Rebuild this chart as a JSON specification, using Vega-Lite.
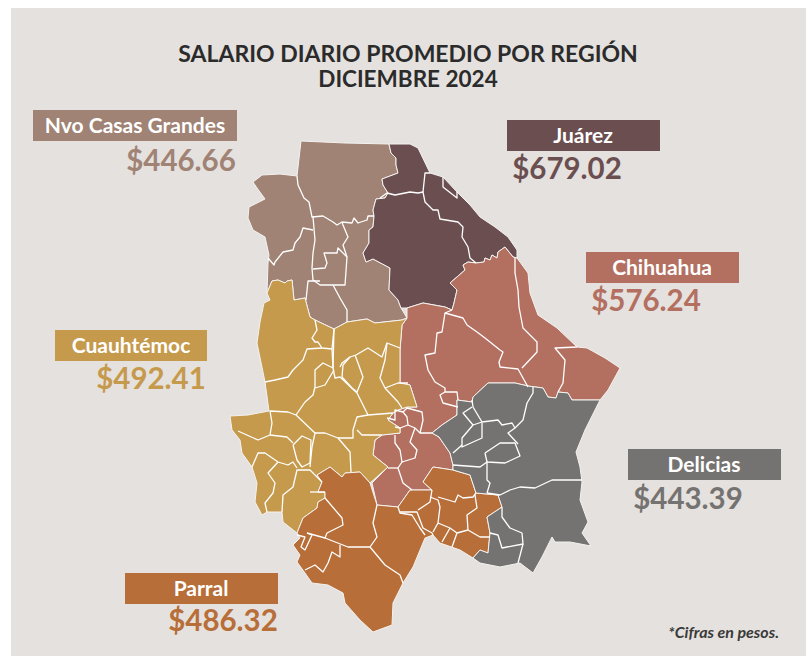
{"$schema":"https://vega.github.io/schema/vega-lite/v6.json","width":809,"height":656,"padding":0,"autosize":{"type":"none"},"background":"#ffffff","view":{"stroke":null},
"datasets":{
"panel":[{"x":11,"x2":806,"y":8,"y2":656}],
"regiones":[
{"r":"Nvo Casas Grandes","x":301,"y":141},{"r":"Nvo Casas Grandes","x":345,"y":143},{"r":"Nvo Casas Grandes","x":389,"y":144},{"r":"Nvo Casas Grandes","x":391,"y":153},{"r":"Nvo Casas Grandes","x":396,"y":158},{"r":"Nvo Casas Grandes","x":396,"y":165},{"r":"Nvo Casas Grandes","x":398,"y":173},{"r":"Nvo Casas Grandes","x":382,"y":179},{"r":"Nvo Casas Grandes","x":383,"y":185},{"r":"Nvo Casas Grandes","x":388,"y":193},{"r":"Nvo Casas Grandes","x":385,"y":198},{"r":"Nvo Casas Grandes","x":376,"y":199},{"r":"Nvo Casas Grandes","x":373,"y":210},{"r":"Nvo Casas Grandes","x":374,"y":216},{"r":"Nvo Casas Grandes","x":373,"y":227},{"r":"Nvo Casas Grandes","x":369,"y":230},{"r":"Nvo Casas Grandes","x":369,"y":243},{"r":"Nvo Casas Grandes","x":363,"y":253},{"r":"Nvo Casas Grandes","x":366,"y":262},{"r":"Nvo Casas Grandes","x":373,"y":259},{"r":"Nvo Casas Grandes","x":390,"y":268},{"r":"Nvo Casas Grandes","x":389,"y":290},{"r":"Nvo Casas Grandes","x":398,"y":300},{"r":"Nvo Casas Grandes","x":401,"y":308},{"r":"Nvo Casas Grandes","x":407,"y":318},{"r":"Nvo Casas Grandes","x":402,"y":320},{"r":"Nvo Casas Grandes","x":375,"y":323},{"r":"Nvo Casas Grandes","x":367,"y":319},{"r":"Nvo Casas Grandes","x":347,"y":322},{"r":"Nvo Casas Grandes","x":334,"y":329},{"r":"Nvo Casas Grandes","x":315,"y":320},{"r":"Nvo Casas Grandes","x":310,"y":317},{"r":"Nvo Casas Grandes","x":305,"y":298},{"r":"Nvo Casas Grandes","x":294,"y":300},{"r":"Nvo Casas Grandes","x":292,"y":280},{"r":"Nvo Casas Grandes","x":287,"y":281},{"r":"Nvo Casas Grandes","x":285,"y":283},{"r":"Nvo Casas Grandes","x":278,"y":280},{"r":"Nvo Casas Grandes","x":272,"y":281},{"r":"Nvo Casas Grandes","x":267,"y":293},{"r":"Nvo Casas Grandes","x":268,"y":263},{"r":"Nvo Casas Grandes","x":269,"y":255},{"r":"Nvo Casas Grandes","x":265,"y":237},{"r":"Nvo Casas Grandes","x":253,"y":230},{"r":"Nvo Casas Grandes","x":248,"y":218},{"r":"Nvo Casas Grandes","x":249,"y":207},{"r":"Nvo Casas Grandes","x":265,"y":199},{"r":"Nvo Casas Grandes","x":257,"y":188},{"r":"Nvo Casas Grandes","x":253,"y":182},{"r":"Nvo Casas Grandes","x":262,"y":175},{"r":"Nvo Casas Grandes","x":280,"y":174},{"r":"Nvo Casas Grandes","x":297,"y":176},{"r":"Nvo Casas Grandes","x":301,"y":141},
{"r":"Juárez","x":389,"y":144},{"r":"Juárez","x":410,"y":144},{"r":"Juárez","x":418,"y":148},{"r":"Juárez","x":430,"y":173},{"r":"Juárez","x":443,"y":177},{"r":"Juárez","x":457,"y":192},{"r":"Juárez","x":470,"y":205},{"r":"Juárez","x":480,"y":217},{"r":"Juárez","x":495,"y":227},{"r":"Juárez","x":508,"y":237},{"r":"Juárez","x":517,"y":250},{"r":"Juárez","x":517,"y":258},{"r":"Juárez","x":513,"y":257},{"r":"Juárez","x":505,"y":247},{"r":"Juárez","x":498,"y":252},{"r":"Juárez","x":497,"y":258},{"r":"Juárez","x":492,"y":255},{"r":"Juárez","x":490,"y":260},{"r":"Juárez","x":485,"y":258},{"r":"Juárez","x":484,"y":262},{"r":"Juárez","x":476,"y":263},{"r":"Juárez","x":468,"y":262},{"r":"Juárez","x":463,"y":265},{"r":"Juárez","x":465,"y":270},{"r":"Juárez","x":450,"y":283},{"r":"Juárez","x":457,"y":290},{"r":"Juárez","x":454,"y":303},{"r":"Juárez","x":452,"y":310},{"r":"Juárez","x":445,"y":307},{"r":"Juárez","x":423,"y":303},{"r":"Juárez","x":407,"y":308},{"r":"Juárez","x":401,"y":308},{"r":"Juárez","x":398,"y":300},{"r":"Juárez","x":389,"y":290},{"r":"Juárez","x":390,"y":268},{"r":"Juárez","x":373,"y":259},{"r":"Juárez","x":366,"y":262},{"r":"Juárez","x":363,"y":253},{"r":"Juárez","x":369,"y":243},{"r":"Juárez","x":369,"y":230},{"r":"Juárez","x":373,"y":227},{"r":"Juárez","x":374,"y":216},{"r":"Juárez","x":373,"y":210},{"r":"Juárez","x":376,"y":199},{"r":"Juárez","x":385,"y":198},{"r":"Juárez","x":388,"y":193},{"r":"Juárez","x":383,"y":185},{"r":"Juárez","x":382,"y":179},{"r":"Juárez","x":398,"y":173},{"r":"Juárez","x":396,"y":165},{"r":"Juárez","x":396,"y":158},{"r":"Juárez","x":391,"y":153},{"r":"Juárez","x":389,"y":144},
{"r":"Chihuahua","x":407,"y":308},{"r":"Chihuahua","x":423,"y":303},{"r":"Chihuahua","x":445,"y":307},{"r":"Chihuahua","x":452,"y":310},{"r":"Chihuahua","x":454,"y":303},{"r":"Chihuahua","x":457,"y":290},{"r":"Chihuahua","x":450,"y":283},{"r":"Chihuahua","x":465,"y":270},{"r":"Chihuahua","x":463,"y":265},{"r":"Chihuahua","x":468,"y":262},{"r":"Chihuahua","x":476,"y":263},{"r":"Chihuahua","x":484,"y":262},{"r":"Chihuahua","x":485,"y":258},{"r":"Chihuahua","x":490,"y":260},{"r":"Chihuahua","x":492,"y":255},{"r":"Chihuahua","x":497,"y":258},{"r":"Chihuahua","x":498,"y":252},{"r":"Chihuahua","x":505,"y":247},{"r":"Chihuahua","x":513,"y":257},{"r":"Chihuahua","x":517,"y":258},{"r":"Chihuahua","x":528,"y":273},{"r":"Chihuahua","x":530,"y":293},{"r":"Chihuahua","x":538,"y":315},{"r":"Chihuahua","x":557,"y":328},{"r":"Chihuahua","x":577,"y":347},{"r":"Chihuahua","x":587,"y":348},{"r":"Chihuahua","x":605,"y":358},{"r":"Chihuahua","x":620,"y":368},{"r":"Chihuahua","x":608,"y":390},{"r":"Chihuahua","x":600,"y":400},{"r":"Chihuahua","x":587,"y":400},{"r":"Chihuahua","x":572,"y":400},{"r":"Chihuahua","x":568,"y":393},{"r":"Chihuahua","x":558,"y":392},{"r":"Chihuahua","x":556,"y":398},{"r":"Chihuahua","x":548,"y":397},{"r":"Chihuahua","x":543,"y":388},{"r":"Chihuahua","x":528,"y":386},{"r":"Chihuahua","x":515,"y":383},{"r":"Chihuahua","x":500,"y":383},{"r":"Chihuahua","x":488,"y":383},{"r":"Chihuahua","x":473,"y":397},{"r":"Chihuahua","x":472,"y":402},{"r":"Chihuahua","x":457,"y":400},{"r":"Chihuahua","x":457,"y":415},{"r":"Chihuahua","x":442,"y":425},{"r":"Chihuahua","x":432,"y":433},{"r":"Chihuahua","x":439,"y":437},{"r":"Chihuahua","x":450,"y":453},{"r":"Chihuahua","x":453,"y":465},{"r":"Chihuahua","x":453,"y":470},{"r":"Chihuahua","x":433,"y":467},{"r":"Chihuahua","x":423,"y":482},{"r":"Chihuahua","x":432,"y":490},{"r":"Chihuahua","x":422,"y":490},{"r":"Chihuahua","x":410,"y":490},{"r":"Chihuahua","x":398,"y":507},{"r":"Chihuahua","x":377,"y":505},{"r":"Chihuahua","x":372,"y":483},{"r":"Chihuahua","x":388,"y":467},{"r":"Chihuahua","x":373,"y":455},{"r":"Chihuahua","x":375,"y":440},{"r":"Chihuahua","x":382,"y":435},{"r":"Chihuahua","x":400,"y":433},{"r":"Chihuahua","x":400,"y":428},{"r":"Chihuahua","x":388,"y":420},{"r":"Chihuahua","x":393,"y":413},{"r":"Chihuahua","x":398,"y":410},{"r":"Chihuahua","x":407,"y":407},{"r":"Chihuahua","x":417,"y":407},{"r":"Chihuahua","x":410,"y":385},{"r":"Chihuahua","x":400,"y":383},{"r":"Chihuahua","x":400,"y":350},{"r":"Chihuahua","x":402,"y":325},{"r":"Chihuahua","x":407,"y":318},{"r":"Chihuahua","x":407,"y":308},
{"r":"Cuauhtémoc","x":272,"y":281},{"r":"Cuauhtémoc","x":278,"y":280},{"r":"Cuauhtémoc","x":285,"y":283},{"r":"Cuauhtémoc","x":287,"y":281},{"r":"Cuauhtémoc","x":292,"y":280},{"r":"Cuauhtémoc","x":294,"y":300},{"r":"Cuauhtémoc","x":305,"y":298},{"r":"Cuauhtémoc","x":310,"y":317},{"r":"Cuauhtémoc","x":315,"y":320},{"r":"Cuauhtémoc","x":334,"y":329},{"r":"Cuauhtémoc","x":347,"y":322},{"r":"Cuauhtémoc","x":367,"y":319},{"r":"Cuauhtémoc","x":375,"y":323},{"r":"Cuauhtémoc","x":402,"y":320},{"r":"Cuauhtémoc","x":407,"y":318},{"r":"Cuauhtémoc","x":402,"y":325},{"r":"Cuauhtémoc","x":400,"y":350},{"r":"Cuauhtémoc","x":400,"y":383},{"r":"Cuauhtémoc","x":410,"y":385},{"r":"Cuauhtémoc","x":417,"y":407},{"r":"Cuauhtémoc","x":407,"y":407},{"r":"Cuauhtémoc","x":398,"y":410},{"r":"Cuauhtémoc","x":393,"y":413},{"r":"Cuauhtémoc","x":388,"y":420},{"r":"Cuauhtémoc","x":400,"y":428},{"r":"Cuauhtémoc","x":400,"y":433},{"r":"Cuauhtémoc","x":382,"y":435},{"r":"Cuauhtémoc","x":375,"y":440},{"r":"Cuauhtémoc","x":373,"y":455},{"r":"Cuauhtémoc","x":388,"y":467},{"r":"Cuauhtémoc","x":370,"y":483},{"r":"Cuauhtémoc","x":360,"y":472},{"r":"Cuauhtémoc","x":345,"y":473},{"r":"Cuauhtémoc","x":342,"y":477},{"r":"Cuauhtémoc","x":330,"y":467},{"r":"Cuauhtémoc","x":317,"y":475},{"r":"Cuauhtémoc","x":322,"y":482},{"r":"Cuauhtémoc","x":318,"y":492},{"r":"Cuauhtémoc","x":325,"y":492},{"r":"Cuauhtémoc","x":325,"y":498},{"r":"Cuauhtémoc","x":318,"y":502},{"r":"Cuauhtémoc","x":317,"y":508},{"r":"Cuauhtémoc","x":303,"y":518},{"r":"Cuauhtémoc","x":297,"y":533},{"r":"Cuauhtémoc","x":283,"y":522},{"r":"Cuauhtémoc","x":282,"y":512},{"r":"Cuauhtémoc","x":267,"y":512},{"r":"Cuauhtémoc","x":262,"y":515},{"r":"Cuauhtémoc","x":255,"y":502},{"r":"Cuauhtémoc","x":257,"y":483},{"r":"Cuauhtémoc","x":252,"y":467},{"r":"Cuauhtémoc","x":242,"y":453},{"r":"Cuauhtémoc","x":240,"y":440},{"r":"Cuauhtémoc","x":232,"y":430},{"r":"Cuauhtémoc","x":230,"y":416},{"r":"Cuauhtémoc","x":248,"y":415},{"r":"Cuauhtémoc","x":269,"y":411},{"r":"Cuauhtémoc","x":265,"y":382},{"r":"Cuauhtémoc","x":257,"y":343},{"r":"Cuauhtémoc","x":260,"y":322},{"r":"Cuauhtémoc","x":264,"y":303},{"r":"Cuauhtémoc","x":270,"y":300},{"r":"Cuauhtémoc","x":267,"y":293},{"r":"Cuauhtémoc","x":272,"y":281},
{"r":"Parral","x":330,"y":467},{"r":"Parral","x":342,"y":477},{"r":"Parral","x":345,"y":473},{"r":"Parral","x":360,"y":472},{"r":"Parral","x":370,"y":483},{"r":"Parral","x":377,"y":505},{"r":"Parral","x":398,"y":507},{"r":"Parral","x":410,"y":490},{"r":"Parral","x":432,"y":490},{"r":"Parral","x":423,"y":482},{"r":"Parral","x":433,"y":467},{"r":"Parral","x":453,"y":470},{"r":"Parral","x":470,"y":475},{"r":"Parral","x":476,"y":493},{"r":"Parral","x":498,"y":495},{"r":"Parral","x":502,"y":507},{"r":"Parral","x":487,"y":517},{"r":"Parral","x":490,"y":533},{"r":"Parral","x":488,"y":553},{"r":"Parral","x":480,"y":550},{"r":"Parral","x":473,"y":558},{"r":"Parral","x":460,"y":550},{"r":"Parral","x":440,"y":543},{"r":"Parral","x":433,"y":535},{"r":"Parral","x":425,"y":538},{"r":"Parral","x":413,"y":567},{"r":"Parral","x":403,"y":583},{"r":"Parral","x":393,"y":603},{"r":"Parral","x":392,"y":625},{"r":"Parral","x":373,"y":632},{"r":"Parral","x":360,"y":620},{"r":"Parral","x":345,"y":603},{"r":"Parral","x":343,"y":593},{"r":"Parral","x":328,"y":585},{"r":"Parral","x":312,"y":583},{"r":"Parral","x":305,"y":573},{"r":"Parral","x":297,"y":562},{"r":"Parral","x":300,"y":555},{"r":"Parral","x":293,"y":545},{"r":"Parral","x":300,"y":538},{"r":"Parral","x":297,"y":533},{"r":"Parral","x":303,"y":518},{"r":"Parral","x":317,"y":508},{"r":"Parral","x":318,"y":502},{"r":"Parral","x":325,"y":498},{"r":"Parral","x":325,"y":492},{"r":"Parral","x":318,"y":492},{"r":"Parral","x":322,"y":482},{"r":"Parral","x":317,"y":475},{"r":"Parral","x":330,"y":467},
{"r":"Delicias","x":457,"y":400},{"r":"Delicias","x":472,"y":402},{"r":"Delicias","x":473,"y":397},{"r":"Delicias","x":488,"y":383},{"r":"Delicias","x":500,"y":383},{"r":"Delicias","x":515,"y":383},{"r":"Delicias","x":528,"y":386},{"r":"Delicias","x":543,"y":388},{"r":"Delicias","x":548,"y":397},{"r":"Delicias","x":556,"y":398},{"r":"Delicias","x":558,"y":392},{"r":"Delicias","x":568,"y":393},{"r":"Delicias","x":572,"y":400},{"r":"Delicias","x":587,"y":400},{"r":"Delicias","x":600,"y":400},{"r":"Delicias","x":585,"y":430},{"r":"Delicias","x":576,"y":452},{"r":"Delicias","x":580,"y":467},{"r":"Delicias","x":582,"y":482},{"r":"Delicias","x":580,"y":500},{"r":"Delicias","x":588,"y":522},{"r":"Delicias","x":582,"y":533},{"r":"Delicias","x":591,"y":546},{"r":"Delicias","x":570,"y":542},{"r":"Delicias","x":555,"y":542},{"r":"Delicias","x":552,"y":537},{"r":"Delicias","x":542,"y":557},{"r":"Delicias","x":533,"y":573},{"r":"Delicias","x":520,"y":563},{"r":"Delicias","x":500,"y":567},{"r":"Delicias","x":480,"y":563},{"r":"Delicias","x":473,"y":558},{"r":"Delicias","x":480,"y":550},{"r":"Delicias","x":488,"y":553},{"r":"Delicias","x":490,"y":533},{"r":"Delicias","x":487,"y":517},{"r":"Delicias","x":502,"y":507},{"r":"Delicias","x":498,"y":495},{"r":"Delicias","x":476,"y":493},{"r":"Delicias","x":470,"y":475},{"r":"Delicias","x":453,"y":470},{"r":"Delicias","x":453,"y":465},{"r":"Delicias","x":450,"y":453},{"r":"Delicias","x":439,"y":437},{"r":"Delicias","x":432,"y":433},{"r":"Delicias","x":442,"y":425},{"r":"Delicias","x":457,"y":415},{"r":"Delicias","x":457,"y":400}
],
"limites":[
{"s":"a","x":297,"y":176},{"s":"a","x":298,"y":185},{"s":"a","x":304,"y":198},{"s":"a","x":309,"y":202},{"s":"a","x":312,"y":217},{"s":"a","x":323,"y":216},{"s":"a","x":333,"y":222},{"s":"a","x":337,"y":225},{"s":"a","x":342,"y":222},{"s":"a","x":352,"y":223},{"s":"a","x":354,"y":218},{"s":"a","x":358,"y":223},{"s":"a","x":367,"y":220},{"s":"a","x":368,"y":216},{"s":"a","x":374,"y":216},
{"s":"b","x":313,"y":217},{"s":"b","x":315,"y":240},{"s":"b","x":313,"y":253},{"s":"b","x":312,"y":268},{"s":"b","x":313,"y":280},{"s":"b","x":320,"y":285},{"s":"b","x":345,"y":285},{"s":"b","x":347,"y":257},{"s":"b","x":343,"y":245},{"s":"b","x":348,"y":237},{"s":"b","x":343,"y":225},{"s":"b","x":342,"y":222},
{"s":"c","x":313,"y":230},{"s":"c","x":303,"y":228},{"s":"c","x":300,"y":237},{"s":"c","x":295,"y":243},{"s":"c","x":293,"y":250},{"s":"c","x":283,"y":252},{"s":"c","x":275,"y":262},{"s":"c","x":274,"y":265},{"s":"c","x":268,"y":258},
{"s":"d","x":313,"y":269},{"s":"d","x":325,"y":268},{"s":"d","x":327,"y":263},{"s":"d","x":324,"y":253},{"s":"d","x":337,"y":253},{"s":"d","x":338,"y":248},{"s":"d","x":347,"y":257},
{"s":"e","x":320,"y":281},{"s":"e","x":308,"y":281},{"s":"e","x":306,"y":300},
{"s":"f","x":333,"y":285},{"s":"f","x":340,"y":298},{"s":"f","x":347,"y":310},{"s":"f","x":347,"y":322},
{"s":"g","x":380,"y":198},{"s":"g","x":387,"y":193},{"s":"g","x":395,"y":195},{"s":"g","x":410,"y":192},{"s":"g","x":418,"y":193},{"s":"g","x":423,"y":192},{"s":"g","x":425,"y":202},{"s":"g","x":433,"y":210},{"s":"g","x":438,"y":210},{"s":"g","x":440,"y":219},{"s":"g","x":458,"y":222},{"s":"g","x":463,"y":227},{"s":"g","x":462,"y":237},{"s":"g","x":468,"y":247},{"s":"g","x":470,"y":258},{"s":"g","x":476,"y":263},
{"s":"h","x":423,"y":192},{"s":"h","x":425,"y":173},{"s":"h","x":430,"y":173},
{"s":"i","x":443,"y":177},{"s":"i","x":443,"y":187},{"s":"i","x":457,"y":198},{"s":"i","x":457,"y":192},
{"s":"j","x":515,"y":258},{"s":"j","x":515,"y":273},{"s":"j","x":518,"y":290},{"s":"j","x":519,"y":307},{"s":"j","x":523,"y":328},{"s":"j","x":537,"y":342},{"s":"j","x":537,"y":352},{"s":"j","x":522,"y":368},
{"s":"k","x":528,"y":387},{"s":"k","x":518,"y":369},{"s":"k","x":500,"y":367},{"s":"k","x":499,"y":362},{"s":"k","x":503,"y":352},{"s":"k","x":500,"y":350},{"s":"k","x":485,"y":338},{"s":"k","x":477,"y":332},{"s":"k","x":467,"y":325},{"s":"k","x":463,"y":318},{"s":"k","x":445,"y":313},{"s":"k","x":452,"y":310},
{"s":"l","x":445,"y":313},{"s":"l","x":442,"y":332},{"s":"l","x":437,"y":333},{"s":"l","x":435,"y":353},{"s":"l","x":425,"y":355},{"s":"l","x":428,"y":370},{"s":"l","x":435,"y":382},{"s":"l","x":445,"y":388},{"s":"l","x":445,"y":392},{"s":"l","x":440,"y":395},{"s":"l","x":443,"y":403},{"s":"l","x":458,"y":407},
{"s":"m","x":445,"y":392},{"s":"m","x":457,"y":392},{"s":"m","x":458,"y":400},
{"s":"n","x":577,"y":347},{"s":"n","x":555,"y":348},{"s":"n","x":565,"y":360},{"s":"n","x":563,"y":383},{"s":"n","x":558,"y":392},
{"s":"o","x":387,"y":418},{"s":"o","x":395,"y":420},{"s":"o","x":395,"y":410},{"s":"o","x":403,"y":412},{"s":"o","x":407,"y":408},{"s":"o","x":422,"y":412},{"s":"o","x":423,"y":420},{"s":"o","x":420,"y":433},{"s":"o","x":432,"y":433},
{"s":"p","x":403,"y":412},{"s":"p","x":407,"y":417},{"s":"p","x":408,"y":425},{"s":"p","x":400,"y":428},{"s":"p","x":395,"y":427},
{"s":"q","x":408,"y":425},{"s":"q","x":415,"y":428},{"s":"q","x":420,"y":433},
{"s":"r","x":415,"y":428},{"s":"r","x":410,"y":442},{"s":"r","x":417,"y":450},{"s":"r","x":415,"y":458},{"s":"r","x":402,"y":462},{"s":"r","x":400,"y":450},{"s":"r","x":395,"y":443},{"s":"r","x":395,"y":435},
{"s":"t","x":402,"y":462},{"s":"t","x":398,"y":468},{"s":"t","x":403,"y":483},{"s":"t","x":412,"y":490},
{"s":"u","x":398,"y":468},{"s":"u","x":388,"y":468},
{"s":"v","x":315,"y":320},{"s":"v","x":317,"y":330},{"s":"v","x":312,"y":338},{"s":"v","x":315,"y":342},{"s":"v","x":318,"y":342},{"s":"v","x":322,"y":348},{"s":"v","x":332,"y":349},{"s":"v","x":334,"y":329},
{"s":"w","x":322,"y":348},{"s":"w","x":307,"y":349},{"s":"w","x":303,"y":360},{"s":"w","x":293,"y":370},{"s":"w","x":288,"y":377},{"s":"w","x":275,"y":380},{"s":"w","x":265,"y":382},
{"s":"x","x":332,"y":349},{"s":"x","x":333,"y":368},{"s":"x","x":323,"y":363},{"s":"x","x":315,"y":370},{"s":"x","x":315,"y":387},{"s":"x","x":313,"y":395},{"s":"x","x":305,"y":402},{"s":"x","x":296,"y":415},{"s":"x","x":288,"y":412},{"s":"x","x":270,"y":411},{"s":"x","x":272,"y":423},{"s":"x","x":270,"y":435},{"s":"x","x":258,"y":440},{"s":"x","x":238,"y":431},
{"s":"y","x":334,"y":370},{"s":"y","x":325,"y":385},{"s":"y","x":315,"y":388},
{"s":"z","x":270,"y":435},{"s":"z","x":287,"y":437},{"s":"z","x":293,"y":443},
{"s":"aa","x":296,"y":415},{"s":"aa","x":315,"y":433},{"s":"aa","x":312,"y":447},{"s":"aa","x":310,"y":467},
{"s":"ab","x":315,"y":433},{"s":"ab","x":325,"y":433},{"s":"ab","x":338,"y":438},{"s":"ab","x":350,"y":452},{"s":"ab","x":351,"y":472},
{"s":"ac","x":338,"y":438},{"s":"ac","x":353,"y":438},{"s":"ac","x":353,"y":430},{"s":"ac","x":357,"y":417},{"s":"ac","x":368,"y":415},{"s":"ac","x":393,"y":413},
{"s":"ad","x":357,"y":430},{"s":"ad","x":362,"y":435},{"s":"ad","x":382,"y":435},
{"s":"ae","x":368,"y":415},{"s":"ae","x":357,"y":393},{"s":"ae","x":340,"y":377},{"s":"ae","x":335,"y":378},{"s":"ae","x":333,"y":368},
{"s":"af","x":340,"y":367},{"s":"af","x":342,"y":363},{"s":"af","x":350,"y":357},{"s":"af","x":356,"y":355},{"s":"af","x":368,"y":348},{"s":"af","x":382,"y":357},{"s":"af","x":387,"y":343},{"s":"af","x":400,"y":348},
{"s":"ag","x":350,"y":357},{"s":"ag","x":343,"y":365},{"s":"ag","x":342,"y":377},{"s":"ag","x":352,"y":388},{"s":"ag","x":357,"y":392},{"s":"ag","x":363,"y":377},{"s":"ag","x":358,"y":363},{"s":"ag","x":355,"y":355},
{"s":"ah","x":387,"y":343},{"s":"ah","x":385,"y":360},{"s":"ah","x":380,"y":378},{"s":"ah","x":385,"y":388},{"s":"ah","x":398,"y":402},{"s":"ah","x":402,"y":408},
{"s":"ai","x":385,"y":388},{"s":"ai","x":398,"y":383},{"s":"ai","x":408,"y":383},
{"s":"aj","x":334,"y":329},{"s":"aj","x":333,"y":368},
{"s":"ak","x":252,"y":467},{"s":"ak","x":258,"y":453},{"s":"ak","x":265,"y":453},{"s":"ak","x":278,"y":462},{"s":"ak","x":288,"y":465},{"s":"ak","x":293,"y":462},{"s":"ak","x":297,"y":468},
{"s":"al","x":293,"y":445},{"s":"al","x":297,"y":460},{"s":"al","x":302,"y":467},{"s":"al","x":310,"y":463},{"s":"al","x":311,"y":440},{"s":"al","x":302,"y":436},{"s":"al","x":293,"y":445},
{"s":"am","x":278,"y":462},{"s":"am","x":268,"y":473},{"s":"am","x":275,"y":483},{"s":"am","x":273,"y":493},{"s":"am","x":265,"y":503},{"s":"am","x":267,"y":512},
{"s":"an","x":282,"y":512},{"s":"an","x":283,"y":495},{"s":"an","x":293,"y":487},{"s":"an","x":297,"y":470},{"s":"an","x":310,"y":470},{"s":"an","x":322,"y":482},
{"s":"ao","x":310,"y":492},{"s":"ao","x":325,"y":492},
{"s":"ap","x":325,"y":498},{"s":"ap","x":342,"y":518},{"s":"ap","x":343,"y":525},{"s":"ap","x":327,"y":533},{"s":"ap","x":325,"y":538},
{"s":"aq","x":307,"y":533},{"s":"aq","x":325,"y":538},{"s":"aq","x":348,"y":547},{"s":"aq","x":370,"y":547},{"s":"aq","x":385,"y":565},{"s":"aq","x":400,"y":575},{"s":"aq","x":403,"y":583},
{"s":"ar","x":377,"y":505},{"s":"ar","x":373,"y":523},{"s":"ar","x":377,"y":537},{"s":"ar","x":370,"y":547},
{"s":"as","x":340,"y":545},{"s":"as","x":340,"y":557},{"s":"as","x":332,"y":552},{"s":"as","x":328,"y":563},{"s":"as","x":323,"y":572},{"s":"as","x":315,"y":565},{"s":"as","x":305,"y":570},
{"s":"at","x":307,"y":533},{"s":"at","x":312,"y":535},{"s":"at","x":305,"y":550},{"s":"at","x":301,"y":547},{"s":"at","x":305,"y":537},{"s":"at","x":297,"y":535},
{"s":"au","x":398,"y":507},{"s":"au","x":400,"y":513},{"s":"au","x":412,"y":515},{"s":"au","x":420,"y":528},{"s":"au","x":425,"y":535},
{"s":"av","x":400,"y":512},{"s":"av","x":417,"y":512},{"s":"av","x":423,"y":528},{"s":"av","x":432,"y":533},{"s":"av","x":433,"y":535},
{"s":"aw","x":432,"y":490},{"s":"aw","x":430,"y":502},{"s":"aw","x":418,"y":510},
{"s":"ax","x":430,"y":497},{"s":"ax","x":438,"y":500},{"s":"ax","x":440,"y":507},{"s":"ax","x":438,"y":523},{"s":"ax","x":433,"y":532},
{"s":"ay","x":438,"y":497},{"s":"ay","x":455,"y":502},{"s":"ay","x":458,"y":495},{"s":"ay","x":463,"y":498},{"s":"ay","x":473,"y":497},{"s":"ay","x":476,"y":493},
{"s":"az","x":475,"y":495},{"s":"az","x":477,"y":508},{"s":"az","x":467,"y":515},{"s":"az","x":468,"y":530},{"s":"az","x":480,"y":537},{"s":"az","x":490,"y":537},
{"s":"ba","x":438,"y":523},{"s":"ba","x":450,"y":528},{"s":"ba","x":457,"y":533},{"s":"ba","x":468,"y":530},
{"s":"bb","x":450,"y":528},{"s":"bb","x":442,"y":542},
{"s":"bc","x":457,"y":533},{"s":"bc","x":452,"y":547},
{"s":"bd","x":472,"y":400},{"s":"bd","x":473,"y":407},{"s":"bd","x":482,"y":422},{"s":"bd","x":498,"y":420},{"s":"bd","x":502,"y":425},{"s":"bd","x":512,"y":423},{"s":"bd","x":515,"y":428},{"s":"bd","x":523,"y":420},{"s":"bd","x":527,"y":403},{"s":"bd","x":533,"y":393},{"s":"bd","x":533,"y":387},
{"s":"be","x":472,"y":407},{"s":"be","x":463,"y":413},{"s":"be","x":473,"y":425},{"s":"be","x":482,"y":422},
{"s":"bf","x":473,"y":425},{"s":"bf","x":462,"y":438},{"s":"bf","x":462,"y":447},{"s":"bf","x":482,"y":438},{"s":"bf","x":482,"y":423},
{"s":"bg","x":462,"y":445},{"s":"bg","x":453,"y":453},
{"s":"bh","x":515,"y":428},{"s":"bh","x":508,"y":433},{"s":"bh","x":518,"y":444},
{"s":"bi","x":485,"y":453},{"s":"bi","x":500,"y":443},{"s":"bi","x":515,"y":443},{"s":"bi","x":520,"y":456},{"s":"bi","x":505,"y":463},{"s":"bi","x":487,"y":462},{"s":"bi","x":485,"y":453},
{"s":"bj","x":453,"y":465},{"s":"bj","x":480,"y":467},{"s":"bj","x":487,"y":462},{"s":"bj","x":487,"y":480},{"s":"bj","x":490,"y":483},{"s":"bj","x":487,"y":493},
{"s":"bk","x":487,"y":493},{"s":"bk","x":500,"y":495},{"s":"bk","x":510,"y":490},{"s":"bk","x":520,"y":487},{"s":"bk","x":535,"y":488},{"s":"bk","x":552,"y":480},{"s":"bk","x":582,"y":480},
{"s":"bl","x":502,"y":507},{"s":"bl","x":502,"y":517},{"s":"bl","x":510,"y":528},{"s":"bl","x":522,"y":533},{"s":"bl","x":523,"y":544},{"s":"bl","x":507,"y":547},{"s":"bl","x":502,"y":548},{"s":"bl","x":498,"y":535},{"s":"bl","x":490,"y":533},
{"s":"bm","x":523,"y":544},{"s":"bm","x":518,"y":563}
],
"cajas":[
{"r":"Nvo Casas Grandes","x":33,"x2":237,"y":110,"y2":141,"cx":135,"ty":133,"vx":181,"vy":171,"salario":"$446.66"},
{"r":"Juárez","x":507,"x2":660,"y":120,"y2":151,"cx":583,"ty":143,"vx":567,"vy":179,"salario":"$679.02"},
{"r":"Chihuahua","x":586,"x2":739,"y":252,"y2":283,"cx":662,"ty":275,"vx":646,"vy":311,"salario":"$576.24"},
{"r":"Cuauhtémoc","x":55,"x2":207,"y":330,"y2":361,"cx":131,"ty":353,"vx":151,"vy":389,"salario":"$492.41"},
{"r":"Delicias","x":628,"x2":781,"y":449,"y2":480,"cx":704,"ty":472,"vx":688,"vy":509,"salario":"$443.39"},
{"r":"Parral","x":125,"x2":278,"y":573,"y2":604,"cx":201,"ty":596,"vx":223,"vy":631,"salario":"$486.32"}
],
"titulos":[
{"t":"SALARIO DIARIO PROMEDIO POR REGIÓN","x":408,"y":62,"z":23},
{"t":"DICIEMBRE 2024","x":408,"y":87,"z":22.5}
],
"nota":[{"t":"*Cifras en pesos.","x":779,"y":638}]
},
"encoding":{
"x":{"type":"quantitative","axis":null,"scale":{"domain":[0,809],"nice":false,"zero":false}},
"y":{"type":"quantitative","axis":null,"scale":{"domain":[656,0],"nice":false,"zero":false}}
},
"resolve":{"scale":{"fill":"shared","color":"shared"}},
"layer":[
{"data":{"name":"panel"},"mark":{"type":"rect","color":"#e5e1de"},"encoding":{"x":{"field":"x","type":"quantitative","axis":null,"scale":{"domain":[0,809],"nice":false,"zero":false}},"x2":{"field":"x2"},"y":{"field":"y","type":"quantitative","axis":null,"scale":{"domain":[656,0],"nice":false,"zero":false}},"y2":{"field":"y2"}}},
{"data":{"name":"regiones"},"mark":{"type":"line","stroke":"#f4f2ef","strokeWidth":1,"strokeJoin":"round"},"encoding":{"x":{"field":"x","type":"quantitative"},"y":{"field":"y","type":"quantitative"},"detail":{"field":"r"},"order":{"value":null},"fill":{"field":"r","type":"nominal","legend":null,"scale":{"domain":["Nvo Casas Grandes","Juárez","Chihuahua","Cuauhtémoc","Delicias","Parral"],"range":["#a08374","#6b4f50","#b36f60","#c59a4c","#757371","#b76e38"]}}}},
{"data":{"name":"limites"},"mark":{"type":"line","stroke":"#ffffff","strokeWidth":1.3,"strokeJoin":"round"},"encoding":{"x":{"field":"x","type":"quantitative"},"y":{"field":"y","type":"quantitative"},"detail":{"field":"s"},"order":{"value":null}}},
{"data":{"name":"cajas"},"mark":{"type":"rect"},"encoding":{"x":{"field":"x","type":"quantitative"},"x2":{"field":"x2"},"y":{"field":"y","type":"quantitative"},"y2":{"field":"y2"},"fill":{"field":"r","type":"nominal","legend":null}}},
{"data":{"name":"cajas"},"mark":{"type":"text","font":"Lato","fontWeight":"bold","fontSize":21,"color":"#ffffff","align":"center","baseline":"alphabetic"},"encoding":{"x":{"field":"cx","type":"quantitative"},"y":{"field":"ty","type":"quantitative"},"text":{"field":"r"}}},
{"data":{"name":"cajas"},"mark":{"type":"text","font":"Lato","fontWeight":"bold","fontSize":29.5,"align":"center","baseline":"alphabetic"},"encoding":{"x":{"field":"vx","type":"quantitative"},"y":{"field":"vy","type":"quantitative"},"text":{"field":"salario"},"fill":{"field":"r","type":"nominal","legend":null}}},
{"data":{"name":"titulos"},"mark":{"type":"text","font":"Lato","fontWeight":"bold","color":"#2b2b2b","align":"center","baseline":"alphabetic"},"encoding":{"x":{"field":"x","type":"quantitative"},"y":{"field":"y","type":"quantitative"},"text":{"field":"t"},"size":{"field":"z","type":"quantitative","scale":null}}},
{"data":{"name":"nota"},"mark":{"type":"text","font":"Lato","fontWeight":"bold","fontStyle":"italic","fontSize":16,"color":"#3a3a3a","align":"right","baseline":"alphabetic"},"encoding":{"x":{"field":"x","type":"quantitative"},"y":{"field":"y","type":"quantitative"},"text":{"field":"t"}}}
]}
